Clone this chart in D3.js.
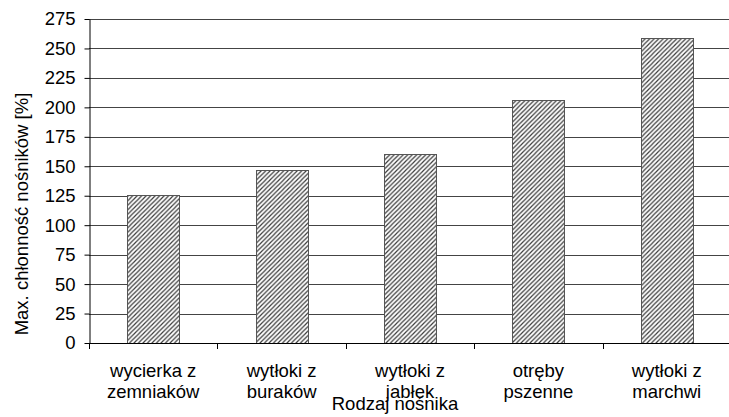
<!DOCTYPE html>
<html>
<head>
<meta charset="utf-8">
<script src="https://cdn.jsdelivr.net/npm/d3@7"></script>
<style>
  html, body { margin: 0; padding: 0; background: #fff; }
  svg { display: block; font-family: "Liberation Sans", Arial, sans-serif; }
</style>
</head>
<body>
<svg id="chart" width="729" height="417"></svg>
<script>
// Carrier types (two-line labels) and their maximum absorbency, %
const categories = [
  ["wycierka z", "zemniaków"],
  ["wytłoki z", "buraków"],
  ["wytłoki z", "jabłek"],
  ["otręby", "pszenne"],
  ["wytłoki z", "marchwi"]
];
const values = [126, 147, 160, 206, 259];
const yTicks = [0, 25, 50, 75, 100, 125, 150, 175, 200, 225, 250, 275];
const yTitle = "Max. chłonność nośników [%]";
const xTitle = "Rodzaj nośnika";

const FS = 18.5;
const svg = d3.select("#chart");
const m = { left: 89, right: 731, top: 19, bottom: 343 };

const x = d3.scaleBand()
  .domain(d3.range(categories.length))
  .range([m.left, m.right])
  .paddingInner(0.595)
  .paddingOuter(0.2975);

const y = d3.scaleLinear().domain([0, 275]).range([m.bottom, m.top]);

// Diagonal hatch fill for bars
const defs = svg.append("defs");
const pat = defs.append("pattern")
  .attr("id", "hatch")
  .attr("patternUnits", "userSpaceOnUse")
  .attr("width", 4.5).attr("height", 4.5);
pat.append("rect").attr("width", 4.5).attr("height", 4.5).attr("fill", "#fff");
pat.append("path")
  .attr("d", "M-1,1 l2,-2 M0,4.5 l4.5,-4.5 M3.5,5.5 l2,-2")
  .attr("stroke", "#3a3a3a").attr("stroke-width", 1.2);

// Horizontal gridlines
svg.append("g")
  .selectAll("line")
  .data(yTicks.filter(d => d > 0))
  .join("line")
  .attr("x1", m.left).attr("x2", m.right)
  .attr("y1", d => Math.round(y(d)) + 0.5)
  .attr("y2", d => Math.round(y(d)) + 0.5)
  .attr("stroke", "#444").attr("stroke-width", 1);

// Bars
svg.append("g")
  .selectAll("rect")
  .data(values)
  .join("rect")
  .attr("x", (d, i) => Math.round(x(i)) + 0.5)
  .attr("width", Math.round(x.bandwidth()))
  .attr("y", d => Math.round(y(d)) + 0.5)
  .attr("height", d => Math.round(y(0)) - Math.round(y(d)))
  .attr("fill", "url(#hatch)")
  .attr("stroke", "#555").attr("stroke-width", 1);

// Y axis
const yAxis = svg.append("g")
  .attr("transform", `translate(${m.left + 0.5},0)`)
  .call(d3.axisLeft(y).tickValues(yTicks).tickSize(5).tickPadding(9).tickSizeOuter(0));
yAxis.select(".domain").attr("stroke", "#000");
yAxis.selectAll(".tick line").attr("stroke", "#000");
yAxis.selectAll(".tick text")
  .attr("font-size", FS).attr("fill", "#000")
  .attr("font-family", "Liberation Sans, Arial, sans-serif");

// X axis with ticks at band boundaries
const boundaries = d3.range(categories.length + 1).map(i => m.left + i * (m.right - m.left) / categories.length);
svg.append("line")
  .attr("x1", m.left).attr("x2", m.right)
  .attr("y1", m.bottom + 0.5).attr("y2", m.bottom + 0.5)
  .attr("stroke", "#000");
svg.append("g")
  .selectAll("line")
  .data(boundaries)
  .join("line")
  .attr("x1", d => Math.round(d) + 0.5).attr("x2", d => Math.round(d) + 0.5)
  .attr("y1", m.bottom).attr("y2", m.bottom + 6)
  .attr("stroke", "#000");

// Category labels
const lab = svg.append("g")
  .selectAll("text")
  .data(categories)
  .join("text")
  .attr("x", (d, i) => x(i) + x.bandwidth() / 2)
  .attr("y", 377)
  .attr("text-anchor", "middle")
  .attr("font-size", FS)
  .attr("fill", "#000");
lab.selectAll("tspan")
  .data(d => d)
  .join("tspan")
  .attr("x", function () { return d3.select(this.parentNode).attr("x"); })
  .attr("dy", (d, i) => i === 0 ? 0 : 20.5)
  .text(d => d);

// Axis titles
svg.append("text")
  .attr("x", 395).attr("y", 410)
  .attr("text-anchor", "middle")
  .attr("font-size", FS)
  .text(xTitle);

svg.append("text")
  .attr("transform", "translate(28,214) rotate(-90)")
  .attr("text-anchor", "middle")
  .attr("font-size", FS)
  .text(yTitle);
</script>
</body>
</html>
